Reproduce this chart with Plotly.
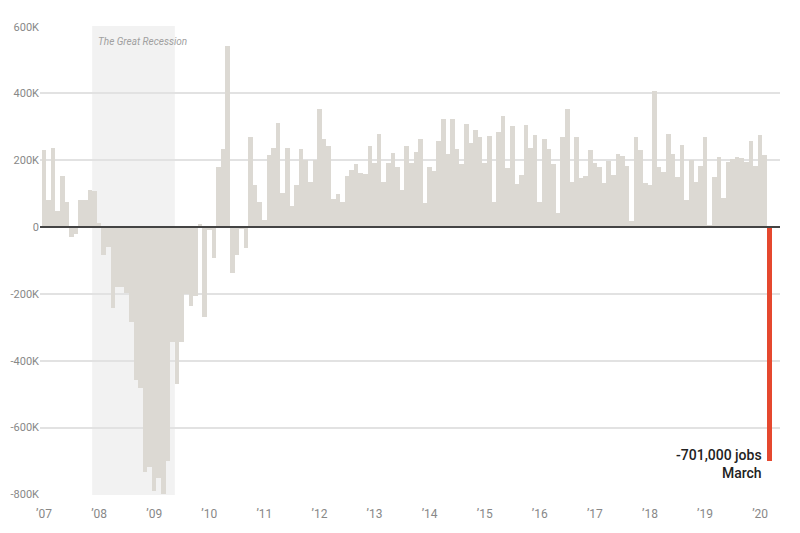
import plotly.graph_objects as go

# Monthly change in US nonfarm payrolls, thousands of jobs (Jan 2007 - Mar 2020)
jobs_2007 = [230, 80, 238, 48, 152, 75, -30, -20, 80, 80, 110, 107]
jobs_2008 = [12, -83, -60, -243, -178, -178, -198, -283, -458, -483, -733, -718]
jobs_2009 = [-790, -750, -800, -700, -345, -470, -343, -200, -235, -205, 10, -270]
jobs_2010 = [-10, -93, 181, 234, 541, -137, -83, -5, -63, 271, 126, 74]
jobs_2011 = [20, 216, 236, 313, 103, 236, 64, 126, 234, 201, 136, 201]
jobs_2012 = [355, 264, 243, 84, 100, 74, 153, 171, 188, 161, 159, 243]
jobs_2013 = [193, 278, 136, 191, 221, 181, 112, 243, 191, 224, 263, 72]
jobs_2014 = [179, 168, 259, 325, 219, 325, 233, 189, 310, 251, 291, 269]
jobs_2015 = [193, 273, 74, 286, 332, 176, 302, 128, 156, 305, 236, 276]
jobs_2016 = [74, 264, 233, 189, 42, 269, 355, 134, 269, 146, 153, 231]
jobs_2017 = [191, 180, 131, 199, 156, 219, 213, 183, 17, 271, 231, 131]
jobs_2018 = [126, 408, 179, 166, 279, 219, 151, 246, 82, 200, 136, 183]
jobs_2019 = [269, 5, 149, 211, 86, 196, 203, 209, 206, 196, 259, 183]
jobs_2020 = [275, 215, -701]

year_labels = ["’07", "’08", "’09", "’10", "’11", "’12", "’13", "’14",
               "’15", "’16", "’17", "’18", "’19", "’20"]
y_ticks = [600, 400, 200, 0, -200, -400, -600, -800]
y_tick_labels = ["600K", "400K", "200K", "0", "-200K", "-400K", "-600K", "-800K"]

# Recession: Dec 2007 (month index 11) through May 2009 (month index 28)
recession_start_idx = 11
recession_end_idx = 28

values = (jobs_2007 + jobs_2008 + jobs_2009 + jobs_2010 + jobs_2011 + jobs_2012
          + jobs_2013 + jobs_2014 + jobs_2015 + jobs_2016 + jobs_2017 + jobs_2018
          + jobs_2019 + jobs_2020)
x_idx = list(range(len(values)))

GREY = "#dcd9d3"
RED = "#e5482f"
colors = [GREY] * (len(values) - 1) + [RED]

FONT = "Roboto, sans-serif"

fig = go.Figure()
fig.add_trace(go.Bar(
    x=x_idx, y=values,
    marker=dict(color=colors, line=dict(width=0)),
    hoverinfo="y",
))

# recession shading
fig.add_shape(type="rect", xref="x", yref="paper",
              x0=recession_start_idx - 0.5, x1=recession_end_idx + 0.5,
              y0=0, y1=1, fillcolor="#f2f2f2", line=dict(width=0), layer="below")
# zero line
fig.add_shape(type="line", xref="paper", yref="y", x0=0, x1=1, y0=0, y1=0,
              line=dict(color="#444444", width=2), layer="above")

fig.add_annotation(x=recession_start_idx - 0.5, y=556, xref="x", yref="y",
                   text="<i>The Great Recession</i>", showarrow=False,
                   xanchor="left", yanchor="middle", xshift=4,
                   font=dict(family=FONT, size=10, color="#a0a0a0"))

fig.add_annotation(x=x_idx[-1], y=values[-1], xref="x", yref="y",
                   text="-701,000 jobs<br>March", showarrow=False, align="right",
                   xanchor="right", yanchor="middle", xshift=-5, yshift=-3,
                   font=dict(family=FONT, size=14, color="#222222", weight=500))

fig.update_layout(
    width=800, height=533,
    margin=dict(l=32, r=28, t=18, b=46),
    paper_bgcolor="white", plot_bgcolor="white",
    bargap=0, showlegend=False,
    font=dict(family=FONT, size=12, color="#888888"),
)
fig.update_xaxes(
    range=[-0.87, 160.33], automargin=False,
    tickmode="array", tickvals=[12 * k for k in range(len(year_labels))],
    ticktext=year_labels, showgrid=False, zeroline=False, showline=False,
    ticks="outside", ticklen=8, tickcolor="rgba(0,0,0,0)",
    tickfont=dict(family=FONT, size=12, color="#888888"),
)
fig.update_yaxes(
    range=[-802, 602], automargin=False,
    tickmode="array", tickvals=y_ticks, ticktext=y_tick_labels,
    showgrid=True, gridcolor="#e2e2e2", gridwidth=1.5,
    zeroline=False, showline=False, ticklabelstandoff=0,
    tickfont=dict(family=FONT, size=11, color="#888888"),
)

fig.write_html("out.html")
